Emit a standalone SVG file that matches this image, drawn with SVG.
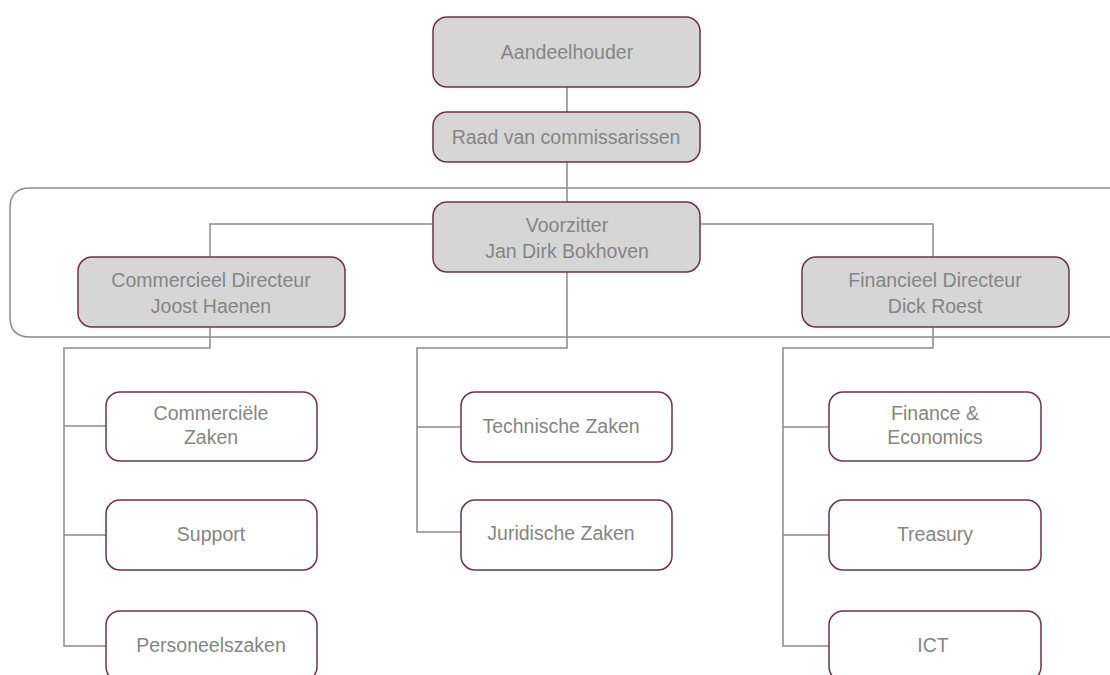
<svg xmlns="http://www.w3.org/2000/svg" width="1110" height="675" viewBox="0 0 1110 675">
<style>
.frame{fill:none;stroke:#8c8c8c;stroke-width:1.5}
.conn path{fill:none;stroke:#8a8a8a;stroke-width:1.5}
.top{fill:#d6d6d6;stroke:#6e3346;stroke-width:1.5}
.leaf{fill:#ffffff;stroke:#6e3346;stroke-width:1.5}
text{font-family:"Liberation Sans",Arial,sans-serif;font-size:19.5px;fill:#858585;text-anchor:middle}
</style>
<rect width="1110" height="675" fill="#ffffff"/>
<path class="frame" d="M1112,188 H30 Q10,188 10,208 V317 Q10,337 30,337 H1112"/>
<g id="connectors" class="conn">
<path d="M567,87 V112"/>
<path d="M567,162 V202"/>
<path d="M433,224 H210 V257"/>
<path d="M700,224 H933 V257"/>
<path d="M210,327 V348 H64 V646 H106"/>
<path d="M64,426 H106"/>
<path d="M64,535 H106"/>
<path d="M567,272 V348 H417 V532 H461"/>
<path d="M417,427 H461"/>
<path d="M933,327 V348 H783 V646 H829"/>
<path d="M783,427 H829"/>
<path d="M783,535 H829"/>
</g>
<g id="aandeelhouder"><rect class="top" x="433" y="17" width="267" height="70" rx="14"/><text x="567" y="59">Aandeelhouder</text></g>
<g id="raad"><rect class="top" x="433" y="112" width="267" height="50" rx="14"/><text x="566" y="144">Raad van commissarissen</text></g>
<g id="voorzitter"><rect class="top" x="433" y="202" width="267" height="70" rx="14"/><text x="567" y="232">Voorzitter</text><text x="567" y="258">Jan Dirk Bokhoven</text></g>
<g id="commercieel-directeur"><rect class="top" x="78" y="257" width="267" height="70" rx="14"/><text x="211" y="287">Commercieel Directeur</text><text x="211" y="313">Joost Haenen</text></g>
<g id="financieel-directeur"><rect class="top" x="802" y="257" width="267" height="70" rx="14"/><text x="935" y="287">Financieel Directeur</text><text x="935" y="313">Dick Roest</text></g>
<g id="commerciele-zaken"><rect class="leaf" x="106" y="392" width="211" height="69" rx="14"/><text x="211" y="420">Commerciële</text><text x="211" y="444">Zaken</text></g>
<g id="support"><rect class="leaf" x="106" y="500" width="211" height="70" rx="14"/><text x="211" y="541">Support</text></g>
<g id="personeelszaken"><rect class="leaf" x="106" y="611" width="211" height="70" rx="14"/><text x="211" y="652">Personeelszaken</text></g>
<g id="technische-zaken"><rect class="leaf" x="461" y="392" width="211" height="70" rx="14"/><text x="561" y="433">Technische Zaken</text></g>
<g id="juridische-zaken"><rect class="leaf" x="461" y="500" width="211" height="70" rx="14"/><text x="561" y="540">Juridische Zaken</text></g>
<g id="finance-economics"><rect class="leaf" x="829" y="392" width="212" height="69" rx="14"/><text x="935" y="420">Finance &amp;</text><text x="935" y="444">Economics</text></g>
<g id="treasury"><rect class="leaf" x="829" y="500" width="212" height="70" rx="14"/><text x="935" y="541">Treasury</text></g>
<g id="ict"><rect class="leaf" x="829" y="611" width="212" height="70" rx="14"/><text x="933" y="652">ICT</text></g>
</svg>
